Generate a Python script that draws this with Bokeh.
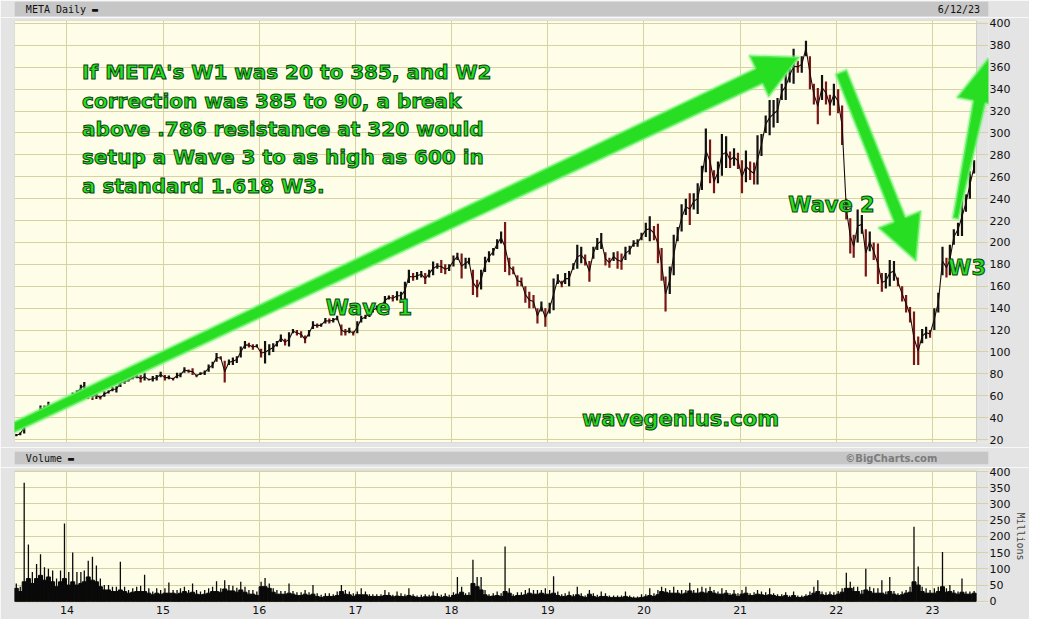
import math
import pandas as pd
from bokeh.plotting import figure
from bokeh.models import Range1d, FixedTicker, Label, PolyAnnotation, BoxAnnotation, ColumnDataSource
from bokeh.layouts import column
from bokeh.embed import file_html
from bokeh.resources import INLINE

# ---------------- data (semi-monthly) ----------------
year_ticks = [2014, 2015, 2016, 2017, 2018, 2019, 2020, 2021, 2022, 2023]
year_labels = ["14", "15", "16", "17", "18", "19", "20", "21", "22", "23"]
price_ticks = list(range(20, 401, 20))
volume_ticks = list(range(0, 401, 50))

price_low = [
    23, 24, 25.5, 36, 38, 41, 44.5, 45.5, 48.5, 46.5, 45.5, 46.5, 53,
    54, 51.5, 61, 64, 66, 57, 56, 57, 56.5, 59, 62, 64, 63, 68, 71, 73, 75, 76, 72, 74, 74, 73, 74, 77,
    74, 75, 74, 76, 77, 81, 81, 79, 77, 79, 79, 82, 85, 91, 93, 72, 88, 88, 90, 95, 103, 104, 102, 104,
    95, 89.5, 97, 100, 105, 109, 106, 105, 117, 115, 113, 108, 114, 121, 122, 123, 126, 126, 127, 129, 115, 115, 117, 115,
    117, 127, 130, 132, 136, 138, 139, 143, 148, 146, 147, 148, 148, 163, 165, 166, 168, 162, 168, 170, 176, 172, 171, 174,
    178, 184, 167, 176, 180, 152, 150, 157, 173, 182, 188, 194, 199, 173, 170, 171, 160, 160, 145, 140, 140, 126, 137, 123,
    135, 138, 162, 159, 162, 160, 175, 176, 181, 179, 164, 185, 193, 194, 179, 177, 183, 176, 175, 184, 189, 196, 196, 202,
    205, 201, 202, 181, 165, 137, 153, 170, 201, 210, 225, 216, 230, 226, 248, 264, 254, 245, 254, 261, 268, 268, 270, 267,
    245, 255, 257, 253, 253, 279, 300, 298, 305, 309, 330, 330, 346, 345, 355, 355, 370, 340, 326, 308, 330, 326, 316, 325,
    318, 289, 221, 190, 186, 200, 208, 169, 192, 184, 162, 155, 158, 160, 165, 160, 146, 136, 127, 88, 88, 108, 112, 113,
    120, 136, 170, 168, 170, 198, 206, 206, 228, 240, 263,
]
price_high = [
    25, 26.5, 37, 39.5, 42, 45.5, 51, 51, 54.5, 50, 48, 55, 58,
    58, 63, 65, 70, 72.5, 66, 63, 64, 60, 64, 65, 68, 69, 76, 74.5, 75, 78, 79.5, 79, 81, 75.5, 78, 79, 82,
    79, 78.5, 76.5, 81, 81, 86, 84, 85, 79.5, 81.5, 83, 88.5, 91, 99, 96, 92, 93, 95, 96, 105, 110, 108.5, 107, 107,
    103, 110, 107, 108, 110, 116, 112, 118, 121, 120, 119, 115, 120, 128, 126, 126, 131, 130.5, 131, 133, 125, 121, 122, 119,
    128, 133, 134, 137, 140, 142.5, 143, 151, 151.5, 152, 155.5, 155, 164, 175, 172, 173, 174, 172, 175, 182.5, 181, 184, 180, 180,
    188, 190.5, 190, 186, 186, 175, 166, 175, 187, 192, 195, 203, 210, 218.6, 186, 178, 170, 168, 160, 155, 152, 140, 146, 140,
    145, 167, 171, 165, 172, 174, 181, 198, 196, 189, 183, 196, 204, 208.6, 191, 186, 191, 192, 190, 196, 197, 202, 203, 208.9,
    218, 224, 215, 217, 195, 169, 178, 207, 214, 235, 240, 245, 245, 254, 270, 304, 294, 266, 274, 299, 297, 283, 286, 282,
    275, 284, 274, 273, 298, 299, 316, 330, 330, 332, 345, 355, 359, 377, 366, 370, 384.3, 370, 345, 341, 353, 347, 335, 345,
    340, 325, 240, 222, 207, 230, 225, 212, 210, 200, 199, 172, 172, 184, 183, 168, 160, 152, 141, 137, 114, 121, 123, 120,
    140, 154, 196, 186, 198, 212, 218, 241, 244, 265, 275,
]
volume_base = [
    40, 30, 60, 70, 55, 70, 80, 65, 75, 60, 45, 60, 70,
    50, 60, 50, 55, 60, 75, 65, 60, 45, 35, 35, 30, 30, 35, 30, 25, 28, 30, 30, 30, 25, 20, 25, 22,
    25, 25, 25, 22, 25, 30, 25, 28, 22, 20, 22, 25, 30, 30, 28, 38, 32, 32, 28, 35, 28, 22, 22, 18,
    45, 45, 40, 28, 22, 22, 22, 25, 22, 18, 18, 22, 18, 22, 15, 12, 15, 15, 15, 18, 30, 22, 20, 15,
    20, 20, 20, 15, 15, 15, 15, 18, 18, 14, 16, 15, 14, 18, 15, 12, 12, 14, 13, 16, 15, 12, 15, 12,
    18, 22, 28, 18, 18, 55, 45, 35, 20, 15, 16, 18, 15, 30, 25, 15, 18, 18, 20, 25, 22, 22, 25, 22,
    22, 25, 18, 14, 15, 18, 14, 20, 15, 12, 22, 15, 12, 15, 15, 12, 12, 12, 12, 15, 12, 10, 10, 12,
    14, 18, 15, 20, 30, 28, 25, 25, 25, 22, 25, 32, 25, 25, 28, 25, 30, 25, 22, 22, 25, 18, 22, 15,
    22, 25, 18, 18, 22, 20, 18, 20, 18, 15, 14, 18, 12, 18, 12, 12, 15, 18, 25, 30, 20, 18, 20, 18,
    22, 28, 40, 40, 30, 30, 22, 35, 30, 25, 25, 25, 20, 30, 22, 18, 20, 25, 28, 60, 50, 30, 25, 25,
    25, 30, 45, 28, 30, 25, 22, 28, 22, 22, 25,
]
volume_peak = [
    55, 45, 365, 175, 90, 115, 145, 105, 100, 95, 70, 95, 240,
    90, 150, 90, 90, 95, 125, 137, 110, 70, 50, 50, 45, 45, 122, 45, 35, 40, 45, 48, 82, 40, 30, 40, 35,
    40, 58, 35, 35, 40, 45, 35, 55, 35, 30, 35, 40, 45, 62, 40, 65, 50, 48, 42, 60, 45, 35, 35, 30,
    60, 72, 55, 40, 35, 32, 32, 55, 32, 28, 28, 35, 28, 50, 25, 20, 25, 25, 22, 30, 50, 35, 30, 25,
    30, 40, 30, 22, 22, 22, 22, 35, 28, 20, 30, 25, 22, 40, 22, 18, 20, 22, 20, 30, 25, 20, 25, 20,
    28, 75, 45, 25, 28, 128, 75, 75, 35, 22, 25, 30, 25, 169, 40, 22, 28, 28, 35, 40, 35, 35, 35, 40,
    35, 77, 30, 22, 25, 30, 22, 45, 25, 18, 35, 25, 20, 30, 25, 18, 18, 18, 18, 30, 18, 15, 15, 22,
    22, 40, 25, 35, 45, 40, 35, 45, 35, 35, 35, 57, 35, 40, 45, 40, 45, 35, 30, 40, 35, 25, 35, 25,
    35, 45, 25, 28, 35, 30, 28, 40, 25, 22, 22, 28, 18, 30, 18, 18, 22, 30, 45, 65, 30, 28, 30, 28,
    32, 40, 88, 60, 45, 45, 35, 100, 45, 40, 40, 65, 30, 75, 32, 25, 30, 35, 45, 230, 107, 45, 40, 35,
    40, 45, 152, 40, 50, 35, 30, 70, 30, 30, 32,
]

# half-month periods (8th and 23rd of each month), 2013-06-23 .. 2023-06-08
periods = [pd.Timestamp(y, m, d) for y in range(2013, 2024) for m in range(1, 13) for d in (8, 23)]
periods = [t for t in periods if pd.Timestamp(2013, 6, 20) <= t <= pd.Timestamp(2023, 6, 10)]
xs = [t.year + (t.dayofyear - 1) / 365.25 for t in periods]

mids = [(a + b) / 2 for a, b in zip(price_low, price_high)]
colors = ["#111111"] + ["#111111" if mids[i] >= mids[i - 1] else "#7a1616" for i in range(1, len(mids))]
price_src = ColumnDataSource(dict(x=xs, lo=price_low, hi=price_high, mid=mids, c=colors))
vol_src = ColumnDataSource(dict(x=xs, base=volume_base, peak=volume_peak))

note_lines = [
    "If META's W1 was 20 to 385, and W2",
    "correction was 385 to 90, a break",
    "above .786 resistance at 320 would",
    "setup a Wave 3 to as high as 600 in",
    "a standard 1.618 W3.",
]

# ---------------- layout / style ----------------
W = 1029
LB = 14
RB = 38                              # both panels: frame runs a bit past the plot box
FWX = W - LB - RB
X0, X1 = 2013.455, 2023.458          # chart's date span (plot box)
BOX_W = 965                          # px width of the plot box
PPY = BOX_W / (X1 - X0)              # px per year
XF1 = X0 + FWX / PPY                 # frame end (past the box)

PH, PT, PBm = 430, 3, 5
FH = PH - PT - PBm
PY0, PY1 = 17.3, 402.7

BG = "#e4e4e4"
BAR = "#c6c6c6"
CREAM = "#fefee8"
GRID = "#d6d2a2"
EDGE = "#7c7c7c"
GREEN = "#27de22"
OUTLINE = "#0d430d"
AXFONT = "DejaVu Sans"
NOTEFONT = "DejaVu Sans"


def header(height, top, bottom, left_txt, right_txt, right_style, right_color, right_x):
    h = figure(width=W, height=height, x_range=Range1d(0, W), y_range=Range1d(0, 1),
               output_backend="svg", toolbar_location=None,
               x_axis_location=None, y_axis_location=None,
               min_border_left=3, min_border_right=3, min_border_top=top, min_border_bottom=bottom,
               background_fill_color=BAR, border_fill_color=BG, outline_line_color=None)
    h.grid.visible = False
    h.add_layout(Label(x=12, y=0.5, text=left_txt, text_baseline="middle", text_align="left",
                       text_font="DejaVu Sans Mono", text_font_size="10px", text_color="#111111"))
    h.add_layout(Label(x=right_x, y=0.5, text=right_txt, text_baseline="middle", text_align="right",
                       text_font="DejaVu Sans Mono" if right_style == "normal" else AXFONT,
                       text_font_style=right_style,
                       text_font_size="10px", text_color=right_color))
    return h


def style_panel(fig, yticks):
    fig.add_layout(BoxAnnotation(left=X0, right=X1, fill_color=CREAM, fill_alpha=1.0,
                                 line_color=EDGE, line_width=1, level="image"))
    fig.xgrid.ticker = FixedTicker(ticks=year_ticks)
    fig.ygrid.ticker = FixedTicker(ticks=yticks)
    fig.ygrid.bounds = (X0, X1)
    fig.grid.grid_line_color = GRID
    fig.yaxis.ticker = FixedTicker(ticks=yticks)
    for ax in fig.axis:
        ax.major_tick_line_color = None
        ax.minor_tick_line_color = None
        ax.axis_line_color = None
        ax.major_tick_out = 0
        ax.major_label_text_font = AXFONT
        ax.major_label_text_font_size = "11px"
        ax.major_label_text_color = "#111111"
    fig.yaxis.major_label_standoff = 1


top_bar = header(17, 1, 1, "META Daily \u25ac", "6/12/23", "normal", "#111111", 1020)
vol_bar = header(20, 4, 3, "Volume \u25ac", "\u00a9BigCharts.com", "bold", "#7c7c7c", 975)

# ---------------- price panel ----------------
p = figure(width=W, height=PH, x_range=Range1d(X0, XF1), y_range=Range1d(PY0, PY1),
           output_backend="svg", toolbar_location=None,
           x_axis_location=None, y_axis_location="right",
           min_border_left=LB, min_border_right=RB, min_border_top=PT, min_border_bottom=PBm,
           background_fill_color=BG, border_fill_color=BG, outline_line_color=None)
style_panel(p, price_ticks)

p.segment(x0="x", y0="lo", x1="x", y1="hi", color="c", line_width=2.2, source=price_src)
p.line(x="x", y="mid", color="#1a0a0a", line_width=1.1, source=price_src)


def to_px(x, y):
    return (x - X0) * PPY, (PY1 - y) / (PY1 - PY0) * FH


def to_data(px, py):
    return X0 + px / PPY, PY1 - py / FH * (PY1 - PY0)


def arrow_poly(start, tip, w0, w1, head_w, head_len):
    ax, ay = to_px(*start)
    bx, by = to_px(*tip)
    dx, dy = bx - ax, by - ay
    L = math.hypot(dx, dy)
    ux, uy = dx / L, dy / L
    nx, ny = -uy, ux
    hx, hy = bx - ux * head_len, by - uy * head_len
    pts = [
        (ax + nx * w0 / 2, ay + ny * w0 / 2),
        (hx + nx * w1 / 2, hy + ny * w1 / 2),
        (hx + nx * head_w / 2, hy + ny * head_w / 2),
        (bx, by),
        (hx - nx * head_w / 2, hy - ny * head_w / 2),
        (hx - nx * w1 / 2, hy - ny * w1 / 2),
        (ax - nx * w0 / 2, ay - ny * w0 / 2),
    ]
    d = [to_data(px, py) for px, py in pts]
    return [q[0] for q in d], [q[1] for q in d]


arrow_starts = [(2013.42, 30.0), (2022.05, 355.7), (2023.24, 221.8)]
arrow_tips = [(2021.617, 369.3), (2022.83, 182.9), (2023.58, 368.4)]
arrow_widths = [(10, 17), (12, 13), (6, 13)]
for s, t, (w0, w1) in zip(arrow_starts, arrow_tips, arrow_widths):
    axs, ays = arrow_poly(s, t, w0, w1, 46, 45)
    p.add_layout(PolyAnnotation(xs=axs, ys=ays, xs_units="data", ys_units="data",
                                fill_color=GREEN, fill_alpha=1.0,
                                line_color="#8af58a", line_width=3, line_alpha=0.55))


def green_label(x, y, text, size, align="center"):
    kw = dict(x=x, y=y, text=text, text_align=align, text_baseline="middle",
              text_font=NOTEFONT, text_font_style="bold", text_font_size=size,
              text_color=GREEN)
    try:
        return Label(**kw, text_outline_color=OUTLINE)
    except AttributeError:
        return Label(**kw)


note_y = [356, 329, 303.3, 277.9, 252]
for txt, yy in zip(note_lines, note_y):
    p.add_layout(green_label(2014.158, yy, txt, "20px", "left"))
p.add_layout(green_label(2017.14, 140.4, "Wave 1", "21px"))
p.add_layout(green_label(2021.95, 234.5, "Wave 2", "21px"))
p.add_layout(green_label(2023.36, 176.6, "W3", "21px"))
p.add_layout(green_label(2020.38, 39.0, "wavegenius.com", "21px"))

# ---------------- volume panel ----------------
VH = 619 - 17 - PH - 20
v = figure(width=W, height=VH, x_range=Range1d(X0, XF1), y_range=Range1d(-3.7, 402.9),
           output_backend="svg", toolbar_location=None,
           x_axis_location="below", y_axis_location="right",
           min_border_left=LB, min_border_right=RB, min_border_top=3, min_border_bottom=17,
           background_fill_color=BG, border_fill_color=BG, outline_line_color=None)
style_panel(v, volume_ticks)
v.xaxis.ticker = FixedTicker(ticks=year_ticks)
v.xaxis.major_label_overrides = {t: l for t, l in zip(year_ticks, year_labels)}
v.xaxis.major_label_standoff = 3
v.yaxis.axis_label = "Millions"
v.yaxis.axis_label_text_font = "DejaVu Sans Mono"
v.yaxis.axis_label_text_font_size = "10px"
v.yaxis.axis_label_text_font_style = "normal"
v.yaxis.axis_label_standoff = 2

v.vbar(x="x", top="base", bottom=0, width=1 / 24, color="#0a0a0a", source=vol_src)
v.segment(x0="x", y0=0, x1="x", y1="peak", color="#0a0a0a", line_width=1.3, source=vol_src)

layout = column(top_bar, p, vol_bar, v, spacing=0)
open("out.html", "w").write(file_html(layout, INLINE))
